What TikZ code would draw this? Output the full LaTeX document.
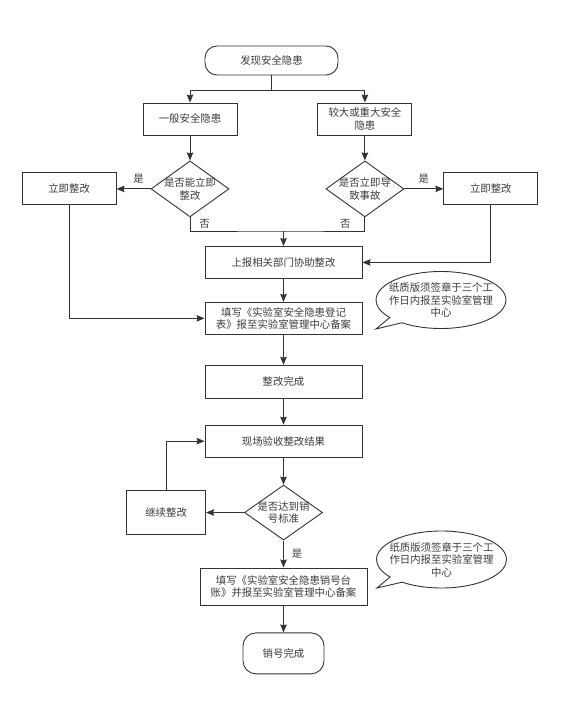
\documentclass[tikz,border=0pt]{standalone}
\usepackage{fontspec}
\usepackage{xcolor}
\usepackage{tikz}
\usetikzlibrary{arrows.meta,positioning,shapes.geometric,shapes.callouts}
\newfontfamily\cjk{Noto Sans CJK SC}
\definecolor{linegray}{RGB}{51,51,51}
\definecolor{textgray}{RGB}{60,60,60}

\begin{document}
\begin{tikzpicture}[
  x=1pt, y=1pt,
  txt/.style = {font=\cjk\fontsize{10.4}{12.5}\selectfont, text=textgray},
  box/.style = {
    rectangle, draw=linegray, fill=white, line width=0.9pt,
    minimum width=94pt, minimum height=32pt, inner sep=2pt,
    align=center, txt
  },
  wbox/.style = {box, minimum width=157pt},
  term/.style = {box, rounded corners=12pt},
  decide/.style = {
    diamond, draw=linegray, fill=white, line width=0.9pt,
    aspect=1.4, inner sep=-4pt, minimum width=78pt, minimum height=56pt,
    align=center, txt
  },
  note/.style = {
    ellipse callout, draw=linegray, fill=white, line width=0.9pt,
    inner sep=-8pt, minimum width=130pt, minimum height=57pt,
    align=center, txt
  },
  arr/.style = {-{Stealth[length=8pt,width=6.5pt,inset=1pt]}, line width=0.9pt, linegray},
  conn/.style = {line width=0.9pt, linegray},
  lbl/.style = {txt, inner sep=0pt}
]
  \useasboundingbox (0,0) rectangle (573,-703);

  \node[term, minimum width=133pt, minimum height=29pt] (find) at (271.5,-60.5) {发现安全隐患};
  \node[box] (minor) at (190,-119) {一般安全隐患};
  \node[box, right=80pt of minor] (major) {较大或重大安全\\隐患};
  \node[decide, below=25pt of minor] (canfix) {是否能立即\\整改};
  \node[decide, below=25pt of major] (accid) {是否立即导\\致事故};
  \node[box, left=34pt of canfix]  (fixl) {立即整改};
  \node[box, right=39pt of accid]  (fixr) {立即整改};
  \coordinate (merge) at (283.5,-231);
  \node[wbox, below=15pt of merge]  (report) {上报相关部门协助整改};
  \node[wbox, below=23pt of report] (reg) {填写《实验室安全隐患登记\\表》报至实验室管理中心备案};
  \node[wbox, minimum height=33pt, below=30pt of reg] (done) {整改完成};
  \node[wbox, below=26pt of done]   (check) {现场验收整改结果};
  \node[decide, minimum height=55pt, below=27pt of check] (pass) {是否达到销\\号标准};
  \node[box, minimum width=79pt, minimum height=44pt, left=38pt of pass] (cont) {继续整改};
  \node[wbox, minimum width=167pt, minimum height=37pt, below=27pt of pass] (ledger) {填写《实验室安全隐患销号台\\账》并报至实验室管理中心备案};
  \node[term, minimum width=81pt, minimum height=41pt, rounded corners=13pt, below=27pt of ledger] (close) {销号完成};

  \node[note, callout absolute pointer={(376,-329)}] (note1) at (441,-300) {纸质版须签章于三个工\\作日内报至实验室管理\\中心};
  \node[note, callout absolute pointer={(377,-588)}] (note2) at (441.5,-559.5) {纸质版须签章于三个工\\作日内报至实验室管理\\中心};

  \draw[conn] (find.south) -- ++(0,-15) coordinate (split);
  \draw[arr] (split) -| (minor.north);
  \draw[arr] (split) -| (major.north);
  \draw[arr] (minor) -- (canfix);
  \draw[arr] (major) -- (accid);
  \draw[arr] (canfix) -- node[lbl, above=5pt, pos=0.35] {是} (fixl);
  \draw[arr] (accid) -- node[lbl, above=5pt] {是} (fixr);
  \draw[conn] (canfix.south) |- node[lbl, pos=0.25, right=9pt] {否} (merge)
              -| node[lbl, pos=0.75, left=14pt] {否} (accid.south);
  \draw[arr] (merge) -- (report);
  \draw[arr] (fixr) |- (report);
  \draw[arr] (fixl) |- (reg);
  \draw[arr] (report) -- (reg);
  \draw[arr] (reg) -- (done);
  \draw[arr] (done) -- (check);
  \draw[arr] (check) -- (pass);
  \draw[arr] (pass) -- (cont);
  \draw[arr] (cont) |- (check);
  \draw[arr] (pass) -- node[lbl, right=8pt] {是} (ledger);
  \draw[arr] (ledger) -- (close);
\end{tikzpicture}
\end{document}
